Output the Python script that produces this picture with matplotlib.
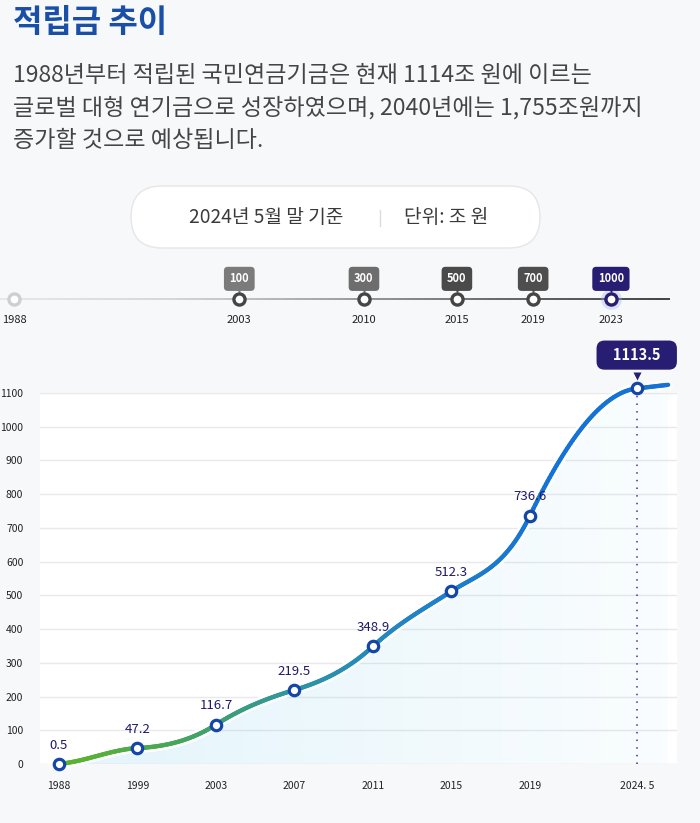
"""
적립금 추이 - 국민연금기금 적립금 line chart with milestone timeline.
"""

import numpy as np
import matplotlib.pyplot as plt
import matplotlib.transforms as mtransforms
from matplotlib.collections import LineCollection
from matplotlib.colors import LinearSegmentedColormap, to_rgb
from matplotlib.patches import FancyBboxPatch

plt.rcParams["font.family"] = ["Noto Sans CJK KR", "DejaVu Sans"]

# ---- data ---------------------------------------------------------------
TITLE = "적립금 추이"
BODY_LINES = [
    "1988년부터 적립된 국민연금기금은 현재 1114조 원에 이르는",
    "글로벌 대형 연기금으로 성장하였으며, 2040년에는 1,755조원까지",
    "증가할 것으로 예상됩니다.",
]
BASIS_TEXT = "2024년 5월 말 기준"
UNIT_TEXT = "단위: 조 원"

# milestone timeline
milestone_years = [1988, 2003, 2010, 2015, 2019, 2023]
milestone_labels = ["", "100", "300", "500", "700", "1000"]

# fund size (조 원)
fund_labels = ["1988", "1999", "2003", "2007", "2011", "2015", "2019", "2024. 5"]
fund_values = [0.5, 47.2, 116.7, 219.5, 348.9, 512.3, 736.6, 1113.5]
y_ticks = list(range(0, 1200, 100))

# ---- style --------------------------------------------------------------
BG = "#f7f8fa"
NAVY = "#271d72"
LABEL_NAVY = "#1d1a6b"
MARKER_BLUE = "#1446a8"
BADGE_COLORS = ["none", "#7b7b7b", "#6d6d6d", "#4a4a4a", "#4e4e4e", NAVY]
RING_COLORS = ["#cfcfcf", "#454545", "#454545", "#454545", "#454545", NAVY]
LINE_CMAP = LinearSegmentedColormap.from_list(
    "fund", ["#5cb52c", "#45a55c", "#2d94a6", "#1f82c8", "#1673d6", "#1673d6"])
LAST_GAP = 0.36      # extra spacing before the latest (partial-year) point
TAIL_LEN = 0.40      # short continuation of the curve after the last point
# curve tangents at each point (조 원 per category step)
CURVE_TANGENTS = [19, 12, 149, 70, 214, 150, 480, 27]
TIMELINE_POWER = 1.15  # the timeline spacing is slightly compressed early on


def hermite_curve(x, y, m, n=60):
    xs, ys = [], []
    for k in range(len(x) - 1):
        hk = x[k + 1] - x[k]
        t = np.linspace(0, 1, n, endpoint=False)
        h00 = 2 * t**3 - 3 * t**2 + 1
        h10 = t**3 - 2 * t**2 + t
        h01 = -2 * t**3 + 3 * t**2
        h11 = t**3 - t**2
        xs.append(x[k] + t * hk)
        ys.append(h00 * y[k] + h10 * hk * m[k] + h01 * y[k + 1] + h11 * hk * m[k + 1])
    xs.append([x[-1]])
    ys.append([y[-1]])
    return np.concatenate(xs), np.concatenate(ys)


def tl_fwd(x):
    d = np.asarray(x, float) - milestone_years[0]
    return np.sign(d) * np.abs(d) ** TIMELINE_POWER


def tl_inv(f):
    f = np.asarray(f, float)
    return milestone_years[0] + np.sign(f) * np.abs(f) ** (1 / TIMELINE_POWER)


def main():
    W, H = 700, 823
    fig = plt.figure(figsize=(W / 100, H / 100), dpi=100, facecolor=BG)

    # ---- header / decorations (pixel coordinates) ----------------------
    deco = fig.add_axes([0, 0, 1, 1], zorder=0)
    deco.set_xlim(0, W)
    deco.set_ylim(H, 0)
    deco.axis("off")
    deco.text(13, 23, TITLE, fontsize=23, fontweight="bold", color="#1a4fa8",
              va="center", ha="left")
    for i, line in enumerate(BODY_LINES):
        deco.text(13, 75 + 32.5 * i, line, fontsize=16.6, color="#454545",
                  va="center", ha="left")
    pill = FancyBboxPatch((131 + 31, 186 + 31), 409 - 62, 0,
                          boxstyle="round,pad=31,rounding_size=31",
                          fc="white", ec="#e6e6e8", lw=1)
    deco.add_patch(pill)
    deco.text(266, 217, BASIS_TEXT, fontsize=13.8, color="#3a3a3a",
              ha="center", va="center")
    deco.plot([380, 380], [210, 226], color="#dcdcdc", lw=1)
    deco.text(446, 217, UNIT_TEXT, fontsize=13.8, color="#3a3a3a",
              ha="center", va="center")

    # ---- milestone timeline --------------------------------------------
    tl = fig.add_axes([0, 488 / H, 1, 80 / H], zorder=2)
    tl.set_xscale("function", functions=(tl_fwd, tl_inv))
    tl.set_xlim(1986.66, 2027.5)
    tl.set_ylim(-0.45, 0.55)
    tl.axis("off")
    tl.patch.set_alpha(0)

    fx = np.linspace(0, 0.957, 200)
    segs = np.stack([np.column_stack([fx[:-1], np.full(199, 0.45)]),
                     np.column_stack([fx[1:], np.full(199, 0.45)])], axis=1)
    grey = LinearSegmentedColormap.from_list(
        "g", ["#e6e6e6", "#d4d4d4", "#9a9a9a", "#5a5a5a", "#333333"])
    lc = LineCollection(segs, colors=grey(fx[:-1] / fx[-1]), linewidths=1.3,
                        transform=tl.transAxes)
    tl.add_collection(lc)

    for yr, lab, bc, rc in zip(milestone_years, milestone_labels, BADGE_COLORS, RING_COLORS):
        if rc == NAVY:
            tl.plot(yr, 0, "o", ms=15, color="#9fb3ea", alpha=0.35, mec="none", zorder=3)
        tl.plot(yr, 0, "o", ms=8, mfc="white", mec=rc, mew=2.4, zorder=4)
        tl.annotate(str(yr), (yr, 0), xytext=(0, -15), textcoords="offset points",
                    ha="center", va="center", fontsize=8, color="#222222")
        if lab:
            tl.annotate(lab, (yr, 0), xytext=(0, 14.5), textcoords="offset points",
                        ha="center", va="center", fontsize=8, fontweight="bold",
                        color="white",
                        bbox=dict(boxstyle="round,pad=0.5,rounding_size=0.35",
                                  fc=bc, ec="none"))
            tri = mtransforms.offset_copy(tl.transData, fig=fig, y=6.5, units="points")
            tl.plot(yr, 0, marker="v", ms=5, color=bc, mec="none", transform=tri, zorder=3)

    # ---- main line chart -----------------------------------------------
    ax = fig.add_axes([40 / W, 59 / H, 637 / W, 371 / H], zorder=3)
    ax.set_facecolor("white")
    for s in ax.spines.values():
        s.set_visible(False)

    xpos = np.arange(len(fund_values), dtype=float)
    xpos[-1] += LAST_GAP
    vals = np.asarray(fund_values, float)
    cx, cy = hermite_curve(xpos, vals, CURVE_TANGENTS)
    tail_x = np.linspace(xpos[-1], xpos[-1] + TAIL_LEN, 15)[1:]
    cx = np.concatenate([cx, tail_x])
    cy = np.concatenate([cy, vals[-1] + CURVE_TANGENTS[-1] * (tail_x - xpos[-1])])

    ax.set_xlim(-0.242, 7.873)
    ax.set_ylim(0, 1100)
    ax.set_yticks(y_ticks)
    ax.set_yticklabels([str(t) for t in y_ticks])
    ax.set_xticks(xpos)
    ax.set_xticklabels(fund_labels)
    ax.tick_params(axis="y", length=0, pad=12, labelsize=7.5, labelcolor="#222222")
    ax.tick_params(axis="x", length=0, pad=12, labelsize=7.5, labelcolor="#222222")
    ax.grid(axis="y", color="#e9e9ec", lw=1)
    ax.set_axisbelow(True)

    # gradient fill under the curve
    poly = ax.fill_between(cx, 0, cy, color="none", lw=0)
    grad = np.zeros((2, 256, 4))
    grad[..., :3] = to_rgb("#46b8e4")
    grad[..., 3] = np.linspace(0.15, 0.03, 256)[None, :]
    img = ax.imshow(grad, extent=[cx[0], cx[-1], 0, 1100], aspect="auto",
                    origin="lower", zorder=1, interpolation="bilinear")
    img.set_clip_path(poly.get_paths()[0], transform=ax.transData)

    # gradient line with white halo
    pts = np.column_stack([cx, cy])
    segs = np.stack([pts[:-1], pts[1:]], axis=1)
    halo = LineCollection(segs, colors="white", linewidths=7, alpha=0.9,
                          capstyle="round", zorder=2, clip_on=False)
    ax.add_collection(halo)
    norm_x = (cx[:-1] - cx[0]) / (cx[-1] - cx[0])
    line = LineCollection(segs, colors=LINE_CMAP(norm_x), linewidths=3.1,
                          capstyle="round", joinstyle="round", zorder=3, clip_on=False)
    ax.add_collection(line)

    # dotted guide at the latest point
    ax.plot([xpos[-1], xpos[-1]], [0, vals[-1]], ls=(0, (1, 4)), color="#3b2f9a",
            lw=1.1, zorder=2, clip_on=False)

    ax.plot(xpos, vals, "o", ms=7.5, mfc="white", mec=MARKER_BLUE, mew=2.3,
            zorder=5, clip_on=False)

    for x, v in zip(xpos[:-1], vals[:-1]):
        ax.annotate(f"{v:g}", (x, v), xytext=(0, 13.5), textcoords="offset points",
                    ha="center", va="center", fontsize=9.5, color=LABEL_NAVY, zorder=6)

    ax.annotate(f"   {vals[-1]:g}   ", (xpos[-1], vals[-1]), xytext=(0, 24),
                textcoords="offset points", ha="center", va="center",
                fontsize=10.5, fontweight="bold", color="white", zorder=7,
                annotation_clip=False,
                bbox=dict(boxstyle="round,pad=0.45,rounding_size=0.55", fc=NAVY, ec="none"))
    tri = mtransforms.offset_copy(ax.transData, fig=fig, y=9, units="points")
    ax.plot(xpos[-1], vals[-1], marker="v", ms=6, color=NAVY, mec="none",
            transform=tri, zorder=7, clip_on=False)

    fig.savefig("out.png", dpi=100, facecolor=BG)


if __name__ == "__main__":
    main()
